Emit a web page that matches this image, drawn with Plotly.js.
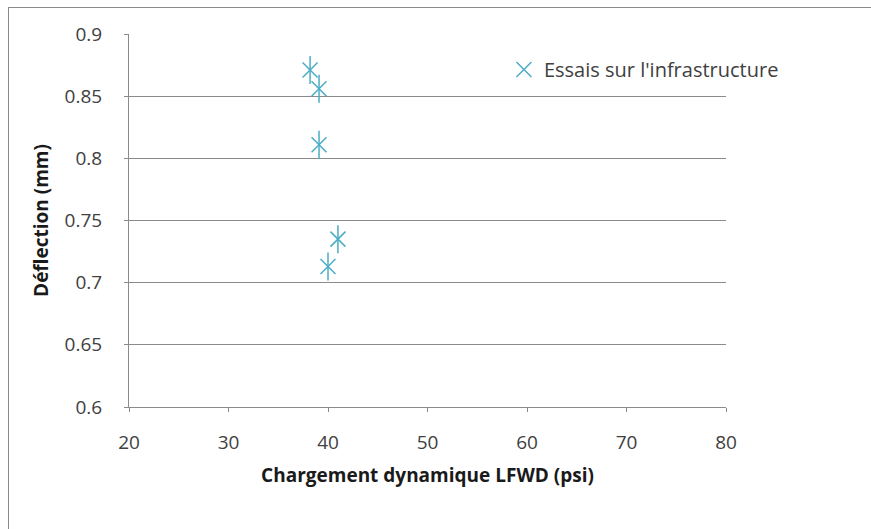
<!DOCTYPE html>
<html>
<head>
<meta charset="utf-8">
<script src="https://cdn.plot.ly/plotly-3.0.1.min.js"></script>
<style>
body { margin: 0; padding: 0; background: #fff; }
#wrap { position: relative; width: 871px; height: 529px; overflow: hidden; }
#chart { position: absolute; left: 0; top: 0; width: 871px; height: 529px; }
#frame { position: absolute; left: 8px; top: 7px; width: 880px; height: 540px; border-left: 1px solid #8a8a8a; border-top: 1px solid #8a8a8a; pointer-events: none; }
</style>
</head>
<body>
<div id="wrap"><div id="chart"></div><div id="frame"></div></div>
<script>
const seriesName = "Essais sur l'infrastructure";
const loadPsi = [38.2, 39.1, 39.1, 41.0, 40.0];
const deflectionMm = [0.871, 0.856, 0.811, 0.735, 0.713];
const xTickVals = [20, 30, 40, 50, 60, 70, 80];
const yTickVals = [0.6, 0.65, 0.7, 0.75, 0.8, 0.85, 0.9];
const xTitle = "Chargement dynamique LFWD (psi)";
const yTitle = "Déflection (mm)";

const color = '#4BACC6';
const fontFam = '"Open Sans", "Noto Sans", sans-serif';

const traces = [
  {
    x: loadPsi, y: deflectionMm, type: 'scatter', mode: 'markers', name: seriesName,
    marker: { symbol: 'x-thin-open', size: 15, color: color, line: { color: color, width: 1.5 } },
    showlegend: true, hoverinfo: 'x+y'
  },
  {
    x: loadPsi, y: deflectionMm, type: 'scatter', mode: 'markers', name: seriesName,
    marker: { symbol: 'line-ns-open', size: 20, color: color, line: { color: color, width: 1.5 } },
    showlegend: false, hoverinfo: 'skip'
  }
];

const layout = {
  width: 871, height: 529,
  margin: { l: 129, r: 145, t: 34, b: 122 },
  paper_bgcolor: '#ffffff', plot_bgcolor: '#ffffff',
  font: { family: fontFam, size: 19, color: '#404040' },
  showlegend: true,
  legend: { x: 0.628, y: 0.905, xanchor: 'left', yanchor: 'middle', bgcolor: 'rgba(0,0,0,0)',
            font: { family: fontFam, size: 20, color: '#404040' }, itemwidth: 30 },
  xaxis: {
    range: [20, 80], tickvals: xTickVals, ticktext: xTickVals.map(String),
    showgrid: false, zeroline: false, showline: true, linecolor: '#8a8a8a', linewidth: 1,
    ticks: 'outside', ticklen: 4, tickcolor: '#8a8a8a', ticklabelstandoff: 14,
    tickfont: { family: fontFam, size: 19, color: '#404040' },
    title: { text: xTitle, font: { family: fontFam, size: 19, color: '#1a1a1a', weight: 'bold' }, standoff: 14 },
    fixedrange: true
  },
  yaxis: {
    range: [0.6, 0.9], tickvals: yTickVals, ticktext: yTickVals.map(v => String(v)),
    showgrid: true, gridcolor: '#8a8a8a', gridwidth: 1, zeroline: false,
    showline: true, linecolor: '#8a8a8a', linewidth: 1,
    ticks: 'outside', ticklen: 4, tickcolor: '#8a8a8a', ticklabelstandoff: 18,
    tickfont: { family: fontFam, size: 19, color: '#404040' },
    title: { text: yTitle, font: { family: fontFam, size: 19, color: '#1a1a1a', weight: 'bold' }, standoff: 10 },
    fixedrange: true
  }
};

Plotly.newPlot('chart', traces, layout, { displayModeBar: false, staticPlot: true });
</script>
</body>
</html>
